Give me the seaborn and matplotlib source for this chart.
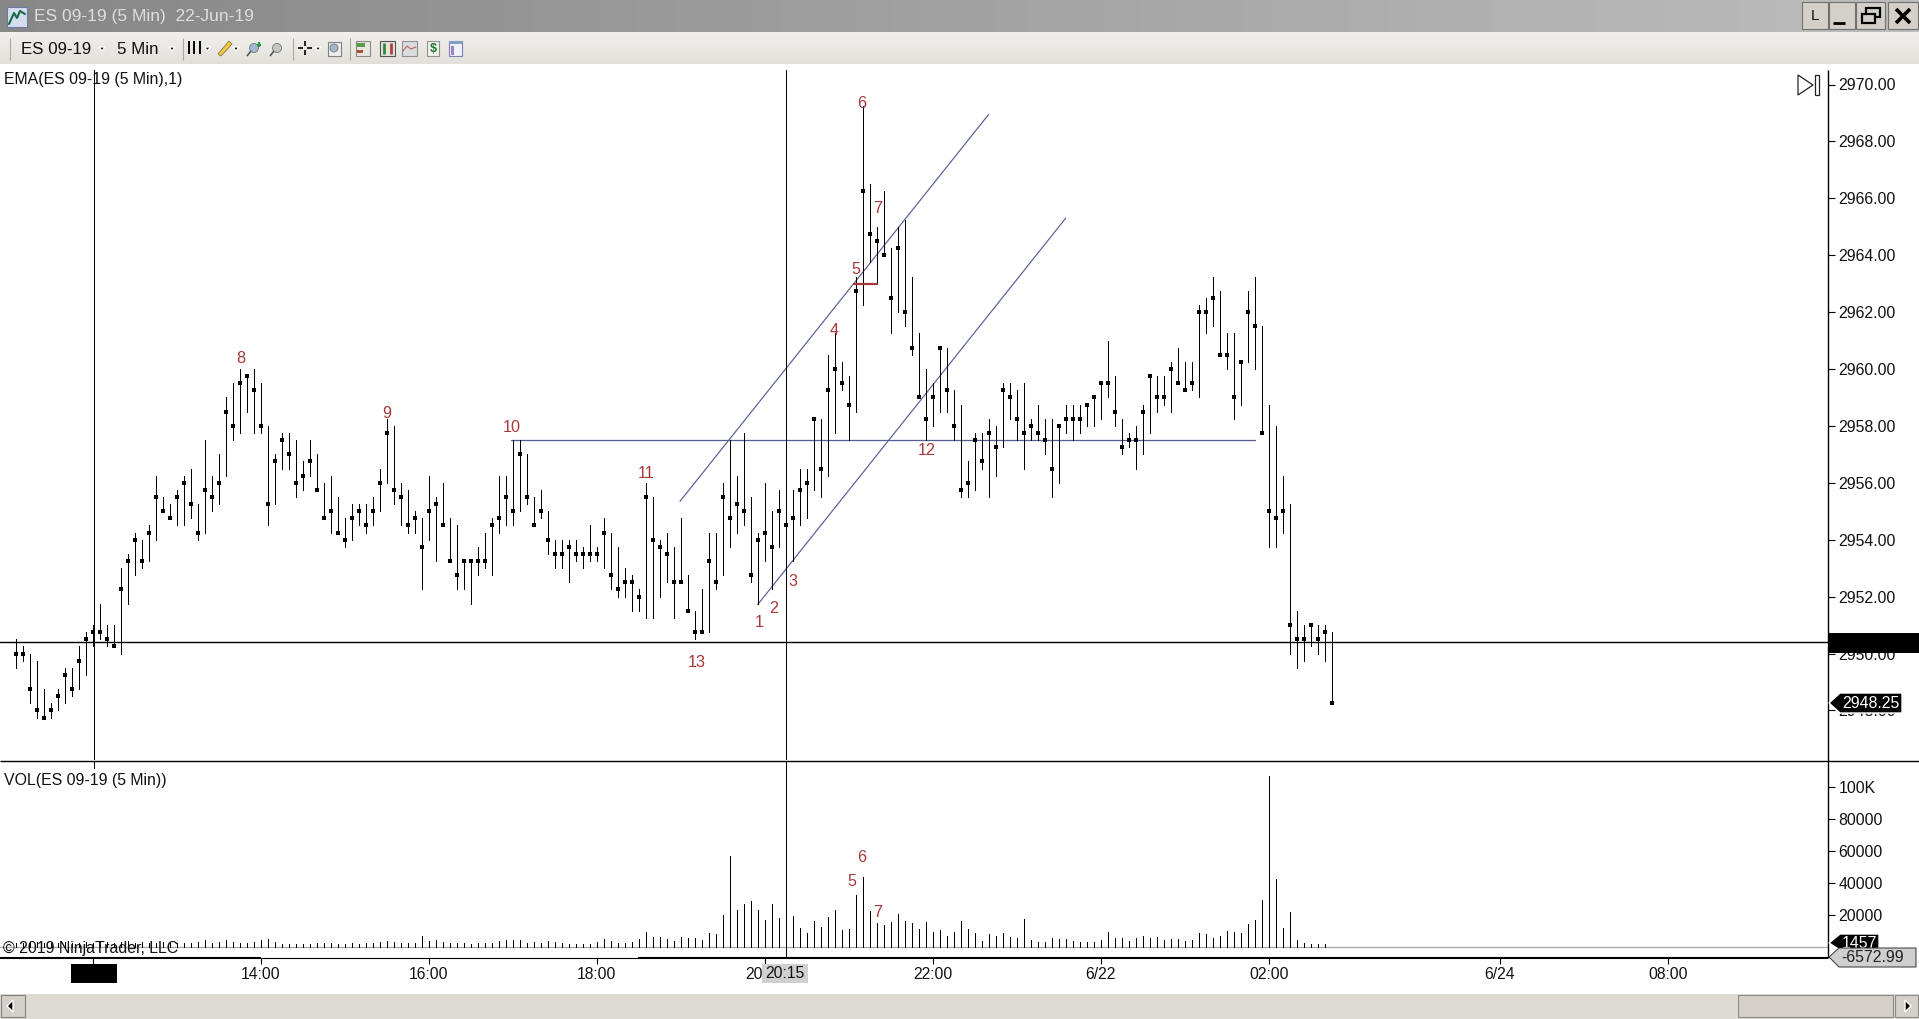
import numpy as np
import matplotlib
matplotlib.use("Agg")
import matplotlib.pyplot as plt
from matplotlib.patches import Rectangle, Polygon
import seaborn as sns

# price bars, 5 min (index 0 = 11:05)
highs = [
    2950.5, 2950.25, 2950, 2949.75, 2948.75, 2948.25, 2948.75, 2949.5, 2949.5, 2950.25,
    2950.75, 2951, 2951.75, 2951, 2951, 2953, 2953.5, 2954.25, 2954, 2954.5,
    2956.25, 2955.5, 2955.25, 2955.75, 2956.25, 2956.5, 2955.25, 2957.5, 2956.25, 2957,
    2959, 2959.5, 2960, 2959.75, 2960, 2959.5, 2958, 2957, 2957.75, 2957.75,
    2957.5, 2956.75, 2957.5, 2957, 2956, 2956.25, 2955.5, 2954.75, 2955.25, 2955.25,
    2955.25, 2955.5, 2956.5, 2958.25, 2958, 2956, 2955.75, 2955, 2954.75, 2956.25,
    2955.5, 2956, 2954.75, 2954.5, 2953.25, 2953.25, 2953.75, 2954.25, 2954.75, 2956.25,
    2956.25, 2957.5, 2957.5, 2957, 2955.5, 2955.75, 2955, 2954, 2954, 2954,
    2954, 2953.75, 2954.5, 2953.75, 2954.75, 2954.25, 2953.75, 2953, 2952.75, 2952.25,
    2956, 2955.5, 2954, 2954.25, 2953.75, 2954.75, 2952.75, 2951.5, 2952.25, 2954.25,
    2954.25, 2956, 2957.5, 2956.25, 2957.75, 2955.5, 2954.25, 2956, 2955, 2955.75,
    2955.75, 2955.75, 2956.5, 2956.5, 2958.25, 2958.25, 2960.5, 2961.25, 2960.25, 2959.75,
    2963.25, 2969.25, 2966.5, 2965, 2966.25, 2964.25, 2965, 2965.25, 2963.25, 2961.25,
    2960, 2959.5, 2960.75, 2960.75, 2959.25, 2958.75, 2956.75, 2957.75, 2957.75, 2958.25,
    2958, 2959.5, 2959.5, 2959.25, 2959.5, 2958.25, 2958.75, 2958.25, 2958.25, 2958,
    2958.75, 2958.75, 2958.75, 2958.75, 2959, 2959.5, 2961, 2959.75, 2958.25, 2957.75,
    2958, 2958.75, 2959.75, 2959.75, 2959.75, 2960.25, 2960.75, 2960.25, 2960.25, 2962.25,
    2962.5, 2963.25, 2962.75, 2961.25, 2961.25, 2960.25, 2962.75, 2963.25, 2961.5, 2958.75,
    2958, 2956.25, 2955.25, 2951.5, 2951, 2951, 2951, 2951, 2950.75,
]
lows = [
    2949.5, 2949.75, 2948.25, 2947.75, 2947.75, 2947.75, 2948, 2948.25, 2948.5, 2948.75,
    2949.25, 2950.25, 2950.5, 2950.25, 2950.25, 2950, 2951.75, 2952.75, 2953, 2953.25,
    2954, 2955, 2954.75, 2954.5, 2954.5, 2954.75, 2954, 2954.25, 2955, 2955.25,
    2956.25, 2957.5, 2957.75, 2958.5, 2957.75, 2957.75, 2954.5, 2955.25, 2956.5, 2956.5,
    2955.5, 2955.75, 2956.25, 2955.75, 2954.75, 2954.25, 2954.25, 2953.75, 2954, 2954.5,
    2954.25, 2954.5, 2955, 2956, 2955.25, 2954.5, 2954.25, 2954.25, 2952.25, 2954,
    2953.25, 2954.5, 2953.25, 2952.25, 2952.25, 2951.75, 2952.75, 2953, 2952.75, 2954.25,
    2954.5, 2954.5, 2955, 2955.25, 2954.5, 2954.75, 2953.5, 2953, 2953, 2952.5,
    2953.25, 2953, 2953.25, 2953.25, 2953, 2952.25, 2952, 2952, 2951.5, 2951.5,
    2951.25, 2951.25, 2952, 2952.5, 2951.25, 2952.5, 2951.5, 2950.5, 2950.75, 2950.75,
    2952.25, 2952.75, 2953.75, 2954.25, 2954.5, 2952.5, 2951.75, 2953.25, 2952.25, 2953.75,
    2953, 2953.25, 2954.5, 2954.75, 2955.75, 2955.5, 2956.25, 2957.75, 2959.25, 2957.5,
    2958.5, 2962.25, 2963.75, 2963, 2964, 2961.25, 2962, 2961.5, 2960.5, 2959,
    2957.5, 2958, 2958.5, 2958.5, 2957.5, 2955.5, 2955.5, 2955.75, 2956.5, 2955.5,
    2956.25, 2957.25, 2958.25, 2957.5, 2956.5, 2957.5, 2957.5, 2957, 2955.5, 2956,
    2957.75, 2957.5, 2957.75, 2958, 2958, 2958.25, 2959, 2958, 2957, 2957.25,
    2956.5, 2957, 2957.75, 2958.5, 2958.75, 2958.5, 2959.5, 2959.25, 2959.25, 2959,
    2961.25, 2961.5, 2960.5, 2960, 2958.25, 2958.75, 2960.25, 2960, 2957.75, 2953.75,
    2953.75, 2954.25, 2950, 2949.5, 2949.75, 2950.25, 2950, 2949.75, 2948.25,
]
closes = [
    2950, 2950, 2948.75, 2948, 2947.75, 2948, 2948.5, 2949.25, 2948.75, 2949.75,
    2950.5, 2950.75, 2950.75, 2950.5, 2950.25, 2952.25, 2953.25, 2954, 2953.25, 2954.25,
    2955.5, 2955, 2954.75, 2955.5, 2956, 2955.25, 2954.25, 2955.75, 2955.5, 2956,
    2958.5, 2958, 2959.5, 2959.75, 2959.25, 2958, 2955.25, 2956.75, 2957.5, 2957,
    2956, 2956.25, 2956.75, 2955.75, 2954.75, 2955, 2954.25, 2954, 2954.75, 2955,
    2954.5, 2955, 2956, 2957.75, 2955.75, 2955.5, 2954.5, 2954.75, 2953.75, 2955,
    2955.25, 2954.5, 2953.25, 2952.75, 2953.25, 2953.25, 2953.25, 2953.25, 2954.5, 2954.75,
    2955.5, 2955, 2957, 2955.5, 2954.5, 2955, 2954, 2953.5, 2953.5, 2953.75,
    2953.5, 2953.5, 2953.5, 2953.5, 2954.25, 2952.75, 2952.25, 2952.5, 2952.5, 2952,
    2955.5, 2954, 2953.75, 2953.5, 2952.5, 2952.5, 2951.5, 2950.75, 2950.75, 2953.25,
    2952.5, 2955.5, 2954.75, 2955.25, 2955, 2952.75, 2954, 2954.25, 2953.75, 2955,
    2954.5, 2954.75, 2955.75, 2956, 2958.25, 2956.5, 2959.25, 2960, 2959.5, 2958.75,
    2962.75, 2966.25, 2964.75, 2964.5, 2964, 2962.5, 2964.25, 2962, 2960.75, 2959,
    2958.25, 2959, 2960.75, 2959.25, 2958, 2955.75, 2956, 2957.5, 2956.75, 2957.75,
    2957.25, 2959.25, 2959, 2958.25, 2957.75, 2958, 2957.75, 2957.5, 2956.5, 2958,
    2958.25, 2958.25, 2958.25, 2958.75, 2959, 2959.5, 2959.5, 2958.5, 2957.25, 2957.5,
    2957.5, 2958.5, 2959.75, 2959, 2959, 2960, 2959.5, 2959.25, 2959.5, 2962,
    2962, 2962.5, 2960.5, 2960.5, 2959, 2960.25, 2962, 2961.5, 2957.75, 2955,
    2954.75, 2955, 2951, 2950.5, 2950.5, 2951, 2950.5, 2950.75, 2948.25,
]
volumes = [
    2100, 2500, 2100, 2900, 2500, 2100, 2500, 2900, 2100, 2500,
    2900, 2500, 3300, 2900, 2500, 2900, 3300, 2500, 2900, 2500,
    2100, 2900, 2500, 2100, 2500, 2100, 2900, 4200, 2500, 2900,
    4200, 2900, 2100, 2100, 2900, 4200, 4600, 2900, 1700, 1700,
    1700, 1700, 1700, 2100, 2100, 2100, 1700, 1700, 2100, 1700,
    2500, 2500, 2900, 3300, 2900, 2100, 2500, 2100, 6700, 3700,
    4200, 2900, 2500, 2500, 2100, 1700, 2100, 2100, 2500, 3700,
    4200, 4200, 4200, 2500, 2900, 2500, 3700, 2900, 2100, 1700,
    1700, 1700, 1700, 2900, 4600, 3700, 2500, 2500, 2900, 4600,
    9200, 6200, 6200, 5000, 3300, 5800, 5200, 5400, 4200, 8700,
    7900, 19800, 56600, 22900, 26600, 28500, 22900, 16600, 26600, 17900,
    14000, 19100, 11600, 8500, 16000, 12300, 18500, 22900, 10400, 11000,
    32200, 43500, 22300, 14800, 13500, 15400, 20400, 16000, 14800, 11000,
    15400, 9200, 10400, 6700, 9200, 16000, 11000, 8500, 3500, 7900,
    6700, 8500, 6000, 5400, 17300, 4200, 2900, 2900, 5400, 4800,
    4800, 3500, 2900, 2900, 2900, 4200, 9200, 5400, 5400, 3500,
    5400, 6700, 5400, 6000, 4200, 4800, 4800, 3500, 4200, 8500,
    7900, 5400, 6700, 9800, 9200, 8500, 14100, 16600, 29100, 106500,
    42200, 11600, 21600, 4200, 2300, 1700, 1700, 1457,
]

time_ticks = [11, 35, 59, 83, 107, 131, 155, 179, 212, 236]
time_labels = ["12:00", "14:00", "16:00", "18:00", "20:00", "22:00", "6/22", "02:00", "6/24", "08:00"]
price_ticks = [2948, 2950, 2952, 2954, 2956, 2958, 2960, 2962, 2964, 2966, 2968, 2970]
vol_ticks = [20000, 40000, 60000, 80000, 100000]
vol_labels = ["20000", "40000", "60000", "80000", "100K"]

# hand drawn stuff on the chart
channel_upper_x = [94.9, 139]
channel_upper_y = [2955.35, 2968.95]
channel_lower_x = [106, 150]
channel_lower_y = [2951.72, 2965.3]
level_x = [70.8, 177]
level_y = [2957.5, 2957.5]
red_x = [119.8, 123]
red_y = [2963, 2963]

note_text = ["8", "9", "10", "11", "13", "1", "2", "3", "4", "5", "6", "7", "12"]
note_bar = [32.1, 53, 70.9, 90, 97.3, 106.2, 108.3, 111.1, 116.9, 120, 120.8, 123.1, 130.1]
note_price = [2960.38, 2958.42, 2957.94, 2956.31, 2949.68, 2951.08, 2951.57, 2952.52,
              2961.36, 2963.51, 2969.34, 2965.65, 2957.13]
vol_note_text = ["6", "5", "7"]
vol_note_bar = [120.8, 119.5, 123.1]
vol_note_vol = [55900, 40600, 21250]

cross_bars = [11.2, 110]
cross_price = 2950.39

W, H = 1919, 1019
INK = "#000000"
BLUE = "#565e96"
RED = "#a8373a"
FONT = "Liberation Sans"
ONE_PX = 0.72

sns.set_theme(style="white")
plt.rcParams["font.family"] = [FONT, "DejaVu Sans"]

fig = plt.figure(figsize=(W / 100, H / 100), dpi=100, facecolor="white")


def px_axes(x0, y0, x1, y1):
    return fig.add_axes([x0 / W, 1 - y1 / H, (x1 - x0) / W, (y1 - y0) / H])


bars = np.arange(len(closes))
xlim = (-15.7 / 7, (1828 - 15.7) / 7)

# --- price panel
ax = px_axes(0, 65, 1828, 760)
ax.set_xlim(xlim)
ax.set_ylim(2970 - (760 - 84.5) / 28.45, 2970 + (84.5 - 65) / 28.45)
ax.vlines(bars, lows, highs, color=INK, lw=ONE_PX, antialiased=False, zorder=3)
sns.scatterplot(x=bars, y=closes, marker="s", s=11, color=INK, linewidth=0, ax=ax, zorder=4)
ax.plot(channel_upper_x, channel_upper_y, color=BLUE, lw=0.85, zorder=2)
ax.plot(channel_lower_x, channel_lower_y, color=BLUE, lw=0.85, zorder=2)
ax.plot(level_x, level_y, color=BLUE, lw=0.9, zorder=2)
ax.plot(red_x, red_y, color=RED, lw=1.6, zorder=5)
ax.axhline(cross_price, color=INK, lw=1.0, zorder=2)
for b in cross_bars:
    ax.vlines(b, 2946, 2970.5, color=INK, lw=ONE_PX, antialiased=False, zorder=2)
for t, b, p in zip(note_text, note_bar, note_price):
    ax.text(b, p, t, color=RED, fontsize=11.6, ha="center", va="center", zorder=6)

ax.yaxis.tick_right()
ax.set_yticks(price_ticks)
ax.set_yticklabels([f"{v:.2f}" for v in price_ticks], fontsize=11.4, color="#111111")
ax.set_xticks([])
ax.tick_params(axis="y", length=5, width=0.8, color=INK, pad=2.5, right=True)
ax.grid(False)
for s in ax.spines.values():
    s.set_visible(False)
ax.patch.set_alpha(0)

# --- volume panel
vax = px_axes(0, 761, 1828, 958)
vax.set_xlim(xlim)
vax.set_ylim((946.7 - 958) * 625, (946.7 - 761) * 625)
vax.vlines(bars[:len(volumes)], 0, volumes, color=INK, lw=ONE_PX, antialiased=False, zorder=3)
vax.axhline(0, color="#a6a6a6", lw=0.9, zorder=2)
vax.vlines(cross_bars[1], -8000, 120000, color=INK, lw=ONE_PX, antialiased=False, zorder=2)
vax.vlines(cross_bars[0], 112000, 120000, color=INK, lw=ONE_PX, antialiased=False, zorder=2)
for t, b, v in zip(vol_note_text, vol_note_bar, vol_note_vol):
    vax.text(b, v, t, color=RED, fontsize=11.6, ha="center", va="center", zorder=6)

vax.yaxis.tick_right()
vax.set_yticks(vol_ticks)
vax.set_yticklabels(vol_labels, fontsize=11.4, color="#111111")
vax.set_xticks(time_ticks)
vax.set_xticklabels(time_labels, fontsize=11.3, color="#111111")
vax.tick_params(axis="y", length=5, width=0.8, color=INK, pad=2.5, right=True)
vax.tick_params(axis="x", length=4.3, width=0.8, color=INK, pad=2.5, bottom=True)
vax.grid(False)
for s in vax.spines.values():
    s.set_visible(False)
vax.patch.set_alpha(0)

# --- window chrome and flags, in pixels
ov = fig.add_axes([0, 0, 1, 1], zorder=10)
ov.set_xlim(0, W)
ov.set_ylim(H, 0)
ov.axis("off")
ov.patch.set_alpha(0)


def rect(x0, y0, x1, y1, fc, ec="none", lw=0.8, z=2):
    ov.add_patch(Rectangle((x0, y0), x1 - x0, y1 - y0, fc=fc, ec=ec, lw=lw, zorder=z))


def line(xs, ys, c=INK, lw=1.0, z=3):
    ov.plot(xs, ys, color=c, lw=lw, solid_capstyle="butt", zorder=z)


def label(x, y, s, size=11.4, c="#111111", ha="left", z=5, **kw):
    ov.text(x, y, s, fontsize=size, color=c, ha=ha, va="center", zorder=z, **kw)


# title bar + toolbar gradients
grad = np.linspace(0, 1, 256).reshape(1, -1)
ov.imshow(grad, extent=(0, W, 32, 0), aspect="auto", cmap=matplotlib.colors.LinearSegmentedColormap.from_list(
    "t", ["#878787", "#bdbdbd"]), zorder=1)
vgrad = np.linspace(0, 1, 32).reshape(-1, 1)
ov.imshow(vgrad, extent=(0, W, 64, 32), aspect="auto", cmap=matplotlib.colors.LinearSegmentedColormap.from_list(
    "b", ["#f1f0ec", "#e2e0da"]), zorder=1)
ov.set_xlim(0, W)
ov.set_ylim(H, 0)
label(34, 16.5, "ES 09-19 (5 Min)  22-Jun-19", size=12.5, c="#dedede")
label(21, 49, "ES 09-19", size=12.2)
label(117, 49, "5 Min", size=12.2)

# app icon
rect(7, 7, 27, 27, "#d5ddee", "#6d7ea6")
ov.plot([9, 14, 17, 20, 25], [24, 13, 18, 11, 14], color="#176b47", lw=1.5, zorder=3)

# toolbar arrows and separators
for x in [102, 172, 207.5, 236, 318]:
    ov.add_patch(Polygon([(x - 3, 47), (x + 3, 47), (x, 51)], fc=INK, zorder=3))
for x in [10, 182.5, 292.5, 350]:
    line([x, x], [38, 60], "#a8a8a4", 0.8)
for x in [189, 194, 200]:
    line([x, x], [41, 54], INK, 1.4)
ov.add_patch(Polygon([(218, 54), (229, 41), (232, 44), (221, 56)], fc="#efc94c", ec="#8c7a30", lw=0.6, zorder=3))
for x0, col in [(248, "#9db8cf"), (271, "#c4c4c4")]:
    ov.add_patch(plt.Circle((x0 + 6, 48), 4.5, fc=col, ec="#777777", lw=0.6, zorder=3))
    line([x0 - 1, x0 + 3], [56, 51], "#555555", 1.2)
line([257, 261], [44.5, 44.5], "#2a9a3a", 1.6)
line([259, 259], [42, 47], "#2a9a3a", 1.6)
line([298, 303], [48, 48], INK, 1.2)
line([307, 312], [48, 48], INK, 1.2)
line([305, 305], [41, 46], INK, 1.2)
line([305, 305], [50, 55], INK, 1.2)
rect(328, 42, 341, 56, "#eeeeee", "#808080")
ov.add_patch(plt.Circle((334, 48), 4, fc="#9db8cf", ec="#777777", lw=0.6, zorder=3))
rect(356, 41, 370, 56, "#e8e6df", "#8a8a80")
rect(357, 43, 365, 47, "#5a9a4a")
rect(357, 50, 363, 53, "#b0503a")
rect(380, 41, 395, 56, "#e4e4dc", "#555555")
line([384, 384], [43, 54], "#2e8a3a", 2)
line([391, 391], [43, 54], "#b0403a", 2)
rect(402, 41, 417, 56, "#d9dce0", "#909090")
ov.plot([403, 407, 411, 416], [51, 46, 49, 47], color="#c06060", lw=0.8, zorder=3)
rect(427, 41, 439, 56, "#f2f2ea", "#909090")
label(433, 48.5, "$", size=9, c="#1d7a35", ha="center", fontweight="bold")
rect(449, 41, 462, 56, "#eef0fa", "#8080b0")
rect(449, 41, 462, 44, "#7f9fc9")
rect(451, 46, 454, 55, "#a080c8")

# window buttons
for x0, x1 in [(1802, 1828), (1829, 1855), (1856, 1885), (1888, 1918)]:
    rect(x0, 2, x1, 29, "#d4d0c8", "#707070", 0.8)
label(1815, 15.5, "L", size=11, ha="center")
line([1833, 1845], [23, 23], INK, 2)
rect(1866, 8, 1880, 17, "none", INK, 1.6, z=3)
rect(1862, 14, 1875, 23, "#d4d0c8", INK, 1.6, z=4)
line([1896, 1910], [9, 23], INK, 2.6)
line([1896, 1910], [23, 9], INK, 2.6)

# scroll-to-end glyph
ov.add_patch(Polygon([(1798, 75), (1813, 85), (1798, 95)], fc="none", ec="#222222", lw=0.9, zorder=3))
rect(1815, 75, 1819, 95, "none", "#222222", 0.9, z=3)

# panel frames
line([0, W], [760.5, 760.5], INK, 1.0)
line([1828, 1828], [70, 958], INK, 1.0)
line([0, 261], [958, 958], INK, 1.5)
line([261, 638], [958, 958], INK, 0.8)
line([638, 1828], [958, 958], INK, 1.5)

# panel titles
label(4, 79.5, "EMA(ES 09-19 (5 Min),1)")
label(4, 780, "VOL(ES 09-19 (5 Min))")
label(3, 948.5, "\u00a9 2019 NinjaTrader, LLC")

# crosshair flags on the axes
rect(1828, 632.7, W, 652.7, INK, z=4)
ov.add_patch(Polygon([(1829, 703), (1840, 693), (1902, 693), (1902, 713), (1840, 713)], fc=INK, zorder=4))
label(1842, 703, "2948.25", c="white")
ov.add_patch(Polygon([(1829, 943), (1840, 934), (1879, 934), (1879, 950), (1840, 950)], fc=INK, zorder=4))
label(1842, 943, "1457", c="white")
ov.add_patch(Polygon([(1829, 957), (1839, 948), (1916, 948), (1916, 967), (1839, 967)],
                     fc="#cfcfcf", ec="#333333", lw=0.7, zorder=5))
label(1841, 957.5, "-6572.99", c="#222222", z=6)
rect(71, 964, 117, 983, INK, z=4)
rect(762, 964, 807.6, 983, "#d0d0d0", z=4)
label(785, 973.5, "20:15", size=11.3, ha="center", z=6)

# scroll bar
rect(0, 994, W, 1019, "#dcdad3", z=2)
rect(1, 995, 25, 1017, "#d4d0c8", "#808080")
ov.add_patch(Polygon([(13, 1000), (13, 1012), (7, 1006)], fc=INK, zorder=3))
rect(1738, 995, 1893, 1017, "#d4d0c8", "#8c8c8c")
rect(1895, 995, 1918, 1017, "#d4d0c8", "#8c8c8c")
ov.add_patch(Polygon([(1905, 1000), (1905, 1012), (1911, 1006)], fc=INK, zorder=3))

fig.savefig("out.png", dpi=100, facecolor="white")
